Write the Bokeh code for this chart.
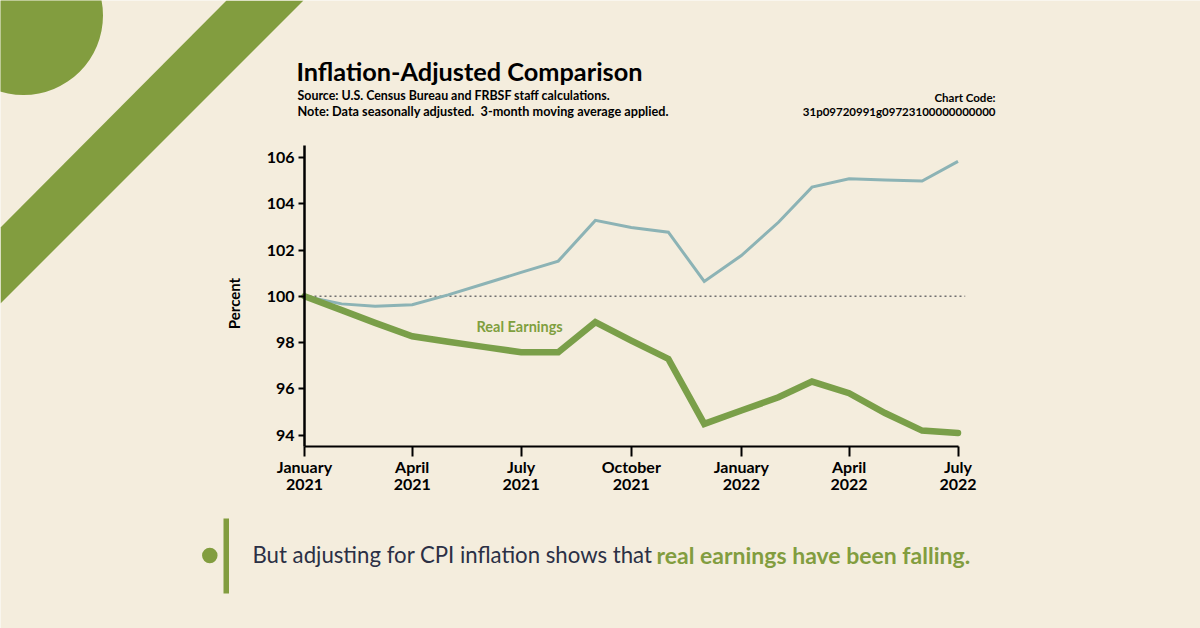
import pandas as pd
from bokeh.embed import file_html
from bokeh.resources import INLINE
from bokeh.models import FixedTicker, Label, Range1d
from bokeh.plotting import figure

# ---- data ----
dates = ["2021-01-01","2021-02-01","2021-03-01","2021-04-01","2021-05-01","2021-06-01","2021-07-01",
         "2021-08-01","2021-09-01","2021-10-01","2021-11-01","2021-12-01","2022-01-01","2022-02-01",
         "2022-03-01","2022-04-01","2022-05-01","2022-06-01","2022-07-01"]
nominal = [100.0,99.67,99.57,99.63,100.06,100.55,101.03,101.52,103.28,102.97,102.77,100.64,101.76,103.2,
           104.72,105.08,105.03,104.98,105.83]
real = [100.0,99.4,98.85,98.27,98.03,97.8,97.58,97.58,98.88,98.08,97.29,94.48,95.06,95.63,
        96.31,95.81,94.95,94.19,94.09]
tick_dates = ["2021-01-01","2021-04-01","2021-07-01","2021-10-01","2022-01-01","2022-04-01","2022-07-01"]
tick_labels = ["January\n2021","April\n2021","July\n2021","October\n2021","January\n2022","April\n2022","July\n2022"]
y_ticks = [94,96,98,100,102,104,106]
reference_x = ["2021-01-01","2022-07-07"]
reference_y = [100,100]

BG="#F4EDDD"; DECO="#829D3F"; GREEN="#7A9F49"; BLUE="#8CB3B5"; INK="#000000"; DARK="#2B3045"
FONT="Lato"
W,H=1200,628

def ms(s): return pd.Timestamp(s).timestamp()*1000
DAY=86400000.0
PX_PER_DAY=653.5/546
PX_PER_UNIT=23.125
AX_X,AX_Y=304,446
Y100=295.75
x0=ms(dates[0])
x_start=x0-AX_X/PX_PER_DAY*DAY
x_end=x0+(W-AX_X)/PX_PER_DAY*DAY
y_top=100+Y100/PX_PER_UNIT
y_bot=100-(H-Y100)/PX_PER_UNIT
y_axis_low=100-(AX_Y-Y100)/PX_PER_UNIT
y_axis_high=100+(Y100-145)/PX_PER_UNIT

p=figure(width=W,height=H,output_backend="svg",toolbar_location=None,x_axis_type="datetime",
         x_range=Range1d(x_start,x_end),y_range=Range1d(y_bot,y_top),
         min_border=0,min_border_left=0,min_border_right=0,min_border_top=0,min_border_bottom=0,
         background_fill_color=BG,border_fill_color=BG,outline_line_color=None)
p.grid.visible=False
p.extra_x_ranges={"px":Range1d(0,W)}
p.extra_y_ranges={"px":Range1d(H,0)}

# decoration
p.patch([226,303,0,0],[0,0,303,227],x_range_name="px",y_range_name="px",color=DECO,line_width=0)
p.scatter([23],[15],size=159,x_range_name="px",y_range_name="px",color=DECO,line_width=0)
p.scatter([209.3],[555],size=15.5,x_range_name="px",y_range_name="px",color=DECO,line_width=0)
p.quad(left=[223],right=[228.5],top=[518],bottom=[593],x_range_name="px",y_range_name="px",color=DECO,line_width=0)

# axes
xx=[ms(d) for d in dates]
xa=p.xaxis[0]; ya=p.yaxis[0]
xa.fixed_location=y_axis_low
ya.fixed_location=x0
xa.bounds=(x0,ms(tick_dates[-1])); ya.bounds=(y_axis_low,y_axis_high)
xa.ticker=FixedTicker(ticks=[ms(d) for d in tick_dates])
xa.major_label_overrides={ms(d):l for d,l in zip(tick_dates,tick_labels)}
ya.ticker=FixedTicker(ticks=y_ticks)
for a in (xa,ya):
    a.major_tick_in=0
    a.minor_tick_in=0; a.minor_tick_out=0
    a.axis_line_color=INK; a.major_tick_line_color=INK
    a.major_label_text_font=FONT; a.major_label_text_font_style="bold"; a.major_label_text_color=INK
xa.major_tick_out=10; xa.axis_line_width=2; xa.major_tick_line_width=2
ya.major_tick_out=6; ya.axis_line_width=2.5; ya.major_tick_line_width=2
xa.major_label_text_font_size="16px"; ya.major_label_text_font_size="16px"
xa.major_label_text_line_height=0.9
xa.major_label_standoff=0; ya.major_label_standoff=4

# marks
p.line([ms(d) for d in reference_x],reference_y,line_color="#6F6F6F",line_width=1.5,line_dash=[2,3])
p.line(xx,nominal,line_color=BLUE,line_width=3,line_join="miter")
p.line(xx,real,line_color=GREEN,line_width=6.5,line_join="miter",line_cap="round")

def txt(x,y,s,size,color=INK,style="bold",align="left",base="middle",angle=0):
    p.add_layout(Label(x=x,y=y,text=s,x_range_name="px",y_range_name="px",text_font=FONT,
        text_font_size=f"{size}px",text_font_style=style,text_color=color,text_align=align,
        text_baseline=base,angle=angle,angle_units="deg"))

txt(296,70,"Inflation-Adjusted Comparison",25.3)
txt(297,94.5,"Source: U.S. Census Bureau and FRBSF staff calculations.",12.4)
txt(297,110,"Note: Data seasonally adjusted.\u00a0 3-month moving average applied.",12.7)
txt(995,97,"Chart Code:",11.5,align="right")
txt(995,111,"31p09720991g09723100000000000",11.5,align="right")
txt(233,303,"Percent",15,align="center",angle=90)
txt(476,326,"Real Earnings",14.5,color="#7F9F3E")
txt(252,554,"But adjusting for CPI inflation shows that",22.2,color=DARK,style="normal")
txt(656,554,"real earnings have been falling.",23,color=DECO)

TEMPLATE="""<!DOCTYPE html><html lang="en"><head><meta charset="utf-8"><title>Inflation-Adjusted Comparison</title>
{{ bokeh_css }}{{ bokeh_js }}<style>html,body{margin:0;padding:0;background:#F4EDDD;overflow:hidden}</style></head>
<body>{{ plot_div }}{{ plot_script }}</body></html>"""
open("out.html","w").write(file_html(p,INLINE,template=TEMPLATE))
